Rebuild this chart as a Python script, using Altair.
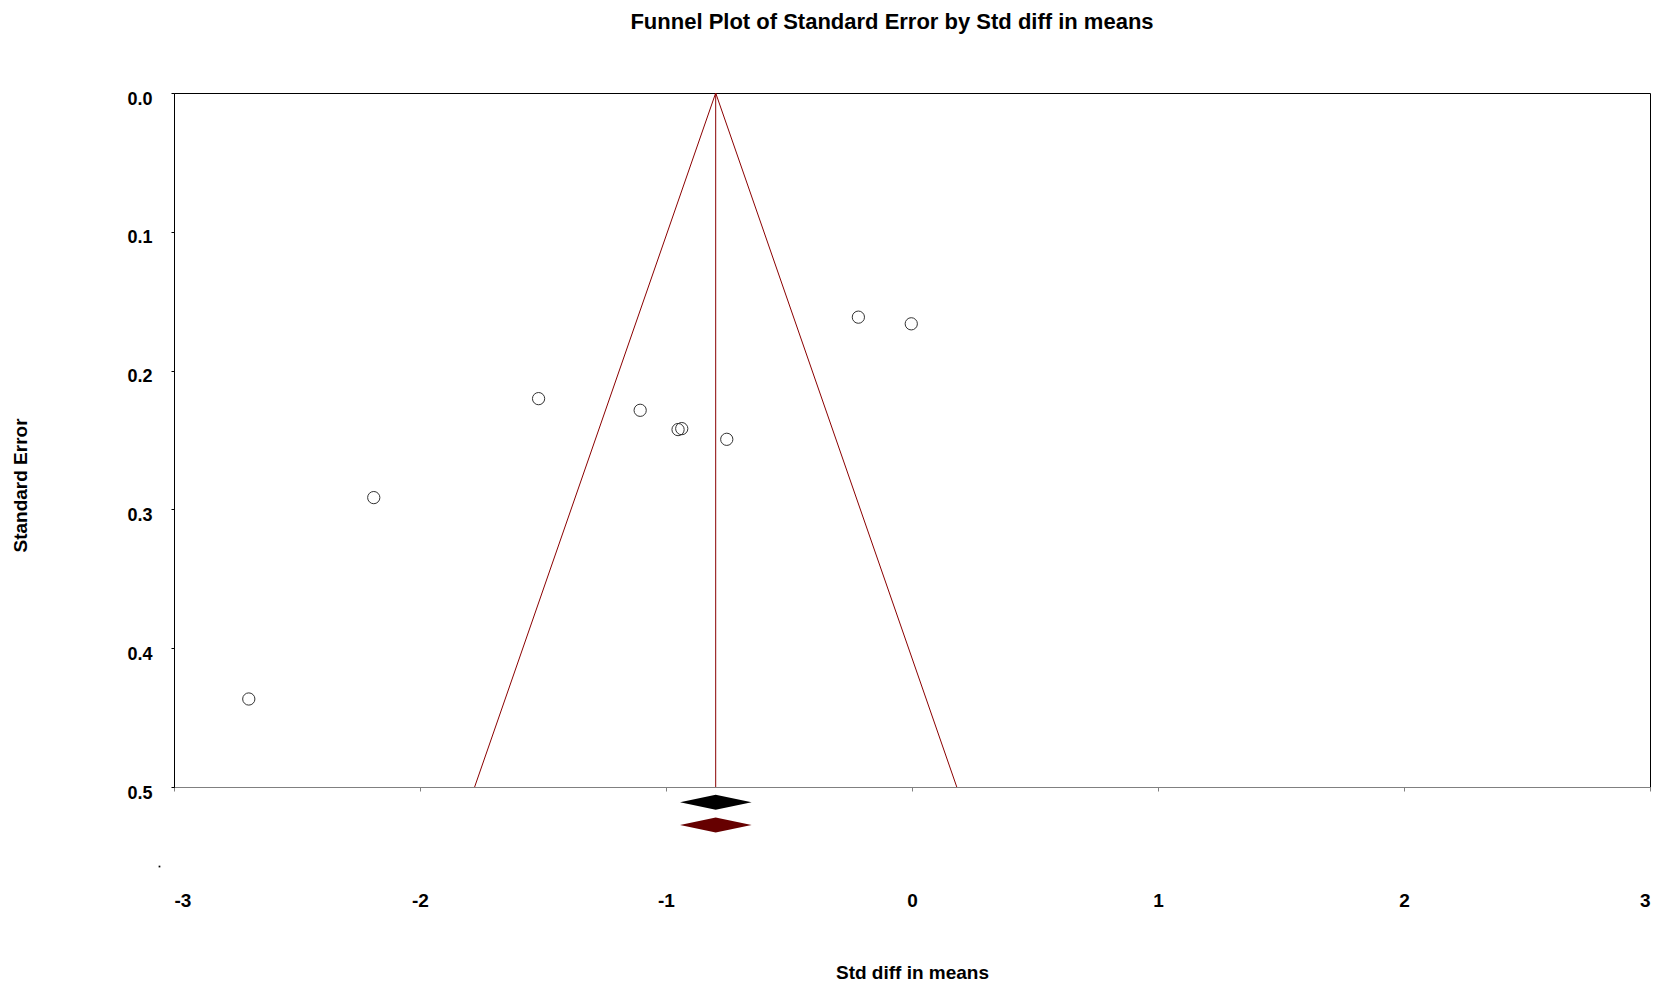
import altair as alt
import pandas as pd

# ---- data ----
study_x = [-2.696, -2.188, -1.518, -1.105, -0.951, -0.936, -0.753, -0.218, -0.003]
study_se = [0.4366, 0.2915, 0.2202, 0.2286, 0.2425, 0.2418, 0.2495, 0.1615, 0.1663]

# funnel: centre line and 95% limits at SE = 0 and SE = 0.5
funnel_side = ["left", "left", "centre", "centre", "right", "right"]
funnel_x = [-0.798, -1.778, -0.798, -0.798, -0.798, 0.182]
funnel_se = [0.0, 0.5, 0.0, 0.5, 0.0, 0.5]

# summary diamonds (observed / adjusted)
diamond_series = ["Observed"] * 3 + ["Adjusted"] * 3
diamond_x = [-0.943, -0.798, -0.652, -0.943, -0.798, -0.652]
diamond_lo = [0.511, 0.5056, 0.511, 0.5273, 0.5219, 0.5273]
diamond_hi = [0.511, 0.5164, 0.511, 0.5273, 0.5327, 0.5273]

# stray dot below the axis in the original
dot_x = [-3.059]
dot_se = [0.5573]

x_ticks = [-3, -2, -1, 0, 1, 2, 3]
y_ticks = [0.0, 0.1, 0.2, 0.3, 0.4, 0.5]

FONT = "Liberation Sans"

studies = pd.DataFrame({"x": study_x, "se": study_se})
funnel = pd.DataFrame({"side": funnel_side, "x": funnel_x, "se": funnel_se})
diamonds = pd.DataFrame({"series": diamond_series, "x": diamond_x,
                         "lo": diamond_lo, "hi": diamond_hi})
dot = pd.DataFrame({"x": dot_x, "se": dot_se})

xscale = alt.Scale(domain=[-3, 3], nice=False, zero=False)
yscale = alt.Scale(domain=[0, 0.5], reverse=True, nice=False, zero=False)

x_axis = alt.Axis(
    values=x_ticks, labelExpr="'' + datum.value", grid=False,
    labelFont=FONT, labelFontWeight="bold", labelFontSize=19, labelColor="black",
    labelPadding=100, tickSize=4, tickColor="#808080", domainColor="#808080",
    title="Std diff in means", titleFont=FONT, titleFontWeight="bold",
    titleFontSize=19, titleColor="black", titleX=738, titleY=191,
    titleAlign="center", titleBaseline="alphabetic",
)
y_axis = alt.Axis(
    values=y_ticks, format=".1f", grid=False,
    labelFont=FONT, labelFontWeight="bold", labelFontSize=18, labelColor="black",
    labelPadding=19, labelOffset=6, labelBaseline="middle",
    tickSize=3, tickColor="black", domainColor="black",
    title="Standard Error", titleFont=FONT, titleFontWeight="bold",
    titleFontSize=19, titleColor="black", titleX=-154, titleY=392,
    titleAngle=270, titleAlign="center", titleBaseline="middle",
)

funnel_layer = alt.Chart(funnel).mark_line(color="#8b0000", strokeWidth=1).encode(
    x=alt.X("x:Q", scale=xscale, axis=x_axis),
    y=alt.Y("se:Q", scale=yscale, axis=y_axis),
    detail="side:N",
    order="se:Q",
)

points_layer = alt.Chart(studies).mark_point(
    shape="circle", filled=False, size=150, stroke="#333333", strokeWidth=1, opacity=1
).encode(
    x=alt.X("x:Q", scale=xscale),
    y=alt.Y("se:Q", scale=yscale),
)

diamond_layer = alt.Chart(diamonds).mark_area(orient="vertical", opacity=1).encode(
    x=alt.X("x:Q", scale=xscale),
    y=alt.Y("lo:Q", scale=yscale),
    y2="hi:Q",
    color=alt.Color("series:N", scale=alt.Scale(domain=["Observed", "Adjusted"],
                                                 range=["#000000", "#660000"]),
                    legend=None),
)

dot_layer = alt.Chart(dot).mark_square(size=3, color="black", opacity=1).encode(
    x=alt.X("x:Q", scale=xscale),
    y=alt.Y("se:Q", scale=yscale),
)

chart = alt.layer(funnel_layer, diamond_layer, points_layer, dot_layer).properties(
    width=1476,
    height=694,
    title=alt.TitleParams(
        "Funnel Plot of Standard Error by Std diff in means",
        font=FONT, fontSize=22, fontWeight="bold", color="black",
        anchor="middle", frame="group", dx=-20, offset=39, baseline="alphabetic",
    ),
    autosize=alt.AutoSizeParams(type="none"),
    padding={"left": 166, "top": 85, "right": 10, "bottom": 198},
).configure_view(stroke="black", strokeWidth=1)

chart.save("out.html", embed_options={"renderer": "svg", "actions": False})
